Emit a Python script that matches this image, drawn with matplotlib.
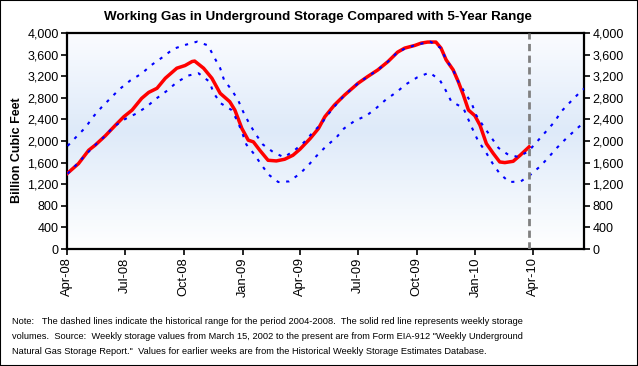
import matplotlib
matplotlib.use("Agg")
import matplotlib.pyplot as plt
import matplotlib.dates as mdates
from matplotlib import font_manager
from matplotlib.colors import LinearSegmentedColormap
from matplotlib.patches import Rectangle
from matplotlib.ticker import FuncFormatter, MultipleLocator
import numpy as np
import pandas as pd

# ── data (Bcf) ───────────────────────────────────────────────────────────────
storage_dates = [
    "2008-04-01", "2008-04-19", "2008-05-05", "2008-05-15", "2008-05-31",
    "2008-06-16", "2008-06-29", "2008-07-12", "2008-07-27", "2008-08-07",
    "2008-08-20", "2008-09-02", "2008-09-20", "2008-10-03", "2008-10-14",
    "2008-10-18", "2008-11-01", "2008-11-14", "2008-11-27", "2008-12-12",
    "2008-12-20", "2008-12-31", "2009-01-10", "2009-01-18", "2009-01-28",
    "2009-02-10", "2009-02-23", "2009-03-08", "2009-03-21", "2009-04-01",
    "2009-04-17", "2009-04-30", "2009-05-10", "2009-05-25", "2009-06-10",
    "2009-07-01", "2009-07-16", "2009-08-01", "2009-08-17", "2009-09-01",
    "2009-09-12", "2009-09-28", "2009-10-08", "2009-10-18", "2009-10-31",
    "2009-11-08", "2009-11-16", "2009-11-27", "2009-12-05", "2009-12-13",
    "2009-12-21", "2009-12-31", "2010-01-08", "2010-01-18", "2010-01-29",
    "2010-02-08", "2010-02-16", "2010-03-01", "2010-03-12", "2010-03-26",
]
storage_vals = [
    1395, 1581, 1829, 1922, 2096, 2294, 2449, 2573, 2790, 2900,
    2976, 3162, 3348, 3398, 3472, 3480, 3348, 3162, 2883, 2728,
    2573, 2232, 2015, 1984, 1829, 1643, 1631, 1662, 1736, 1848,
    2046, 2232, 2449, 2666, 2852, 3069, 3193, 3317, 3472, 3646,
    3720, 3770, 3813, 3832, 3832, 3720, 3503, 3317, 3100, 2852,
    2573, 2468, 2294, 1953, 1767, 1612, 1600, 1624, 1736, 1891,
]

upper_dates = [
    "2008-04-02", "2008-04-14", "2008-04-30", "2008-05-12", "2008-05-25",
    "2008-06-08", "2008-06-22", "2008-07-09", "2008-07-27", "2008-08-11",
    "2008-08-28", "2008-09-15", "2008-10-04", "2008-10-22", "2008-11-08",
    "2008-11-17", "2008-11-27", "2008-12-03", "2008-12-15", "2008-12-25",
    "2009-01-02", "2009-01-12", "2009-01-22", "2009-02-02", "2009-02-19",
    "2009-03-07", "2009-03-23", "2009-04-07", "2009-04-22", "2009-05-05",
    "2009-05-12", "2009-05-27", "2009-06-10", "2009-07-01", "2009-07-16",
    "2009-08-01", "2009-08-17", "2009-09-01", "2009-09-14", "2009-09-30",
    "2009-10-22", "2009-11-08", "2009-11-16", "2009-11-27", "2009-12-05",
    "2009-12-15", "2009-12-26", "2010-01-02", "2010-01-13", "2010-01-24",
    "2010-02-06", "2010-02-21", "2010-03-09", "2010-03-25", "2010-04-08",
    "2010-04-21", "2010-05-04", "2010-05-16", "2010-05-29", "2010-06-12",
    "2010-06-21",
]
upper_vals = [
    1910, 2058, 2251, 2449, 2623, 2790, 2957, 3119, 3249, 3404,
    3546, 3708, 3782, 3840, 3770, 3565, 3348, 3131, 2945, 2759,
    2542, 2313, 2120, 1934, 1786, 1699, 1823, 1972, 2170, 2325,
    2449, 2666, 2852, 3069, 3193, 3317, 3472, 3646, 3720, 3780,
    3840, 3720, 3503, 3317, 3100, 2902, 2697, 2480, 2282, 2096,
    1872, 1748, 1705, 1810, 1996, 2170, 2344, 2554, 2716, 2883,
    2976,
]

lower_dates = [
    "2008-04-02", "2008-04-19", "2008-05-02", "2008-05-15", "2008-05-31",
    "2008-06-13", "2008-07-01", "2008-07-18", "2008-08-04", "2008-08-18",
    "2008-09-05", "2008-09-20", "2008-10-08", "2008-10-24", "2008-11-10",
    "2008-11-17", "2008-11-28", "2008-12-15", "2008-12-24", "2008-12-31",
    "2009-01-07", "2009-01-19", "2009-01-30", "2009-02-11", "2009-02-26",
    "2009-03-15", "2009-04-01", "2009-04-15", "2009-04-27", "2009-05-12",
    "2009-05-28", "2009-06-09", "2009-06-26", "2009-07-14", "2009-07-29",
    "2009-08-14", "2009-08-30", "2009-09-14", "2009-10-02", "2009-10-21",
    "2009-11-06", "2009-11-15", "2009-11-24", "2009-12-13", "2009-12-27",
    "2010-01-05", "2010-01-16", "2010-01-28", "2010-02-08", "2010-02-23",
    "2010-03-13", "2010-03-27", "2010-04-13", "2010-04-26", "2010-05-09",
    "2010-05-24", "2010-06-08", "2010-06-21",
]
lower_vals = [
    1395, 1600, 1767, 1922, 2096, 2263, 2406, 2505, 2635, 2778,
    2933, 3088, 3212, 3255, 3100, 2883, 2697, 2573, 2368, 2170,
    1934, 1761, 1569, 1376, 1240, 1252, 1395, 1562, 1724, 1903,
    2065, 2232, 2375, 2468, 2604, 2771, 2902, 3050, 3180, 3267,
    3131, 2945, 2734, 2610, 2232, 2003, 1817, 1581, 1395, 1240,
    1252, 1364, 1538, 1705, 1879, 2058, 2220, 2356,
]

current_week = "2010-03-26"
x_range = ("2008-04-01", "2010-06-20")
title = "Working Gas in Underground Storage Compared with 5-Year Range"
ylabel = "Billion Cubic Feet"
note_lines = [
    "Note:   The dashed lines indicate the historical range for the period 2004-2008.  "
    "The solid red line represents weekly storage",
    "volumes.  Source:  Weekly storage values from March 15, 2002 to the present are from "
    "Form EIA-912 \"Weekly Underground",
    "Natural Gas Storage Report.\"  Values for earlier weeks are from the Historical "
    "Weekly Storage Estimates Database.",
]

# ── fonts ────────────────────────────────────────────────────────────────────
installed = {f.name for f in font_manager.fontManager.ttflist}
plt.rcParams["font.family"] = "Liberation Sans"
note_font = "Liberation Sans Narrow" if "Liberation Sans Narrow" in installed else "Liberation Sans"

# ── figure ───────────────────────────────────────────────────────────────────
fig = plt.figure(figsize=(6.38, 3.66), dpi=100)
ax = fig.add_axes([67 / 638, 1 - 249 / 366, 517 / 638, 216 / 366])

# plot-area gradient: white at top/bottom, pale blue in the middle
grad_cmap = LinearSegmentedColormap.from_list(
    "bg", [(0.0, "#ffffff"), (0.55, "#deeaf9"), (1.0, "#fbfcff")])
grad = np.linspace(0, 1, 256).reshape(-1, 1)
ax.imshow(grad, extent=[0, 1, 0, 1], transform=ax.transAxes, origin="lower",
          aspect="auto", cmap=grad_cmap, zorder=0, interpolation="bicubic")

ax.plot(pd.to_datetime(storage_dates), storage_vals, color="#ff0000", lw=2.5,
        solid_joinstyle="round", zorder=3)
ax.plot(pd.to_datetime(upper_dates), upper_vals, color="#0000ff", lw=1.5,
        dashes=(1.5, 3.2), zorder=4)
ax.plot(pd.to_datetime(lower_dates), lower_vals, color="#0000ff", lw=1.5,
        dashes=(1.5, 3.2), zorder=4)
ax.axvline(pd.Timestamp(current_week), color="#808080", lw=2.0,
           dashes=(2.6, 1.6), zorder=5)

ax.set_xlim(pd.Timestamp(x_range[0]), pd.Timestamp(x_range[1]))
ax.set_ylim(0, 4000)

ax.xaxis.set_major_locator(mdates.MonthLocator(bymonth=[1, 4, 7, 10]))
ax.xaxis.set_major_formatter(mdates.DateFormatter("%b-%y"))
ax.set_xticks([t for t in ax.get_xticks() if t <= mdates.date2num(pd.Timestamp("2010-04-01"))])
ax.yaxis.set_major_locator(MultipleLocator(400))
ax.yaxis.set_major_formatter(FuncFormatter(lambda v, _: f"{int(v):,}"))

ax.tick_params(axis="y", which="both", direction="out", length=4, width=1.2,
               left=True, right=True, labelleft=True, labelright=True,
               labelsize=9, pad=2)
ax.tick_params(axis="x", direction="out", length=4, width=1.2, labelsize=9.3,
               labelrotation=90, pad=2)
for s in ax.spines.values():
    s.set_linewidth(1.6)
    s.set_color("black")

fig.text(318 / 638, 1 - 17 / 366, title, ha="center", va="center",
         fontsize=9.6, fontweight="bold")
fig.text(17 / 638, 1 - 150 / 366, ylabel, ha="center", va="center",
         rotation=90, fontsize=9, fontweight="bold")

for i, line in enumerate(note_lines):
    fig.text(12 / 638, 1 - (322 + i * 14.5) / 366, line, ha="left", va="center",
             fontsize=6.7, family=note_font)

fig.add_artist(Rectangle((0, 0), 1, 1, transform=fig.transFigure, fill=False,
                         edgecolor="black", lw=1.5))

fig.savefig("out.png", dpi=100)
